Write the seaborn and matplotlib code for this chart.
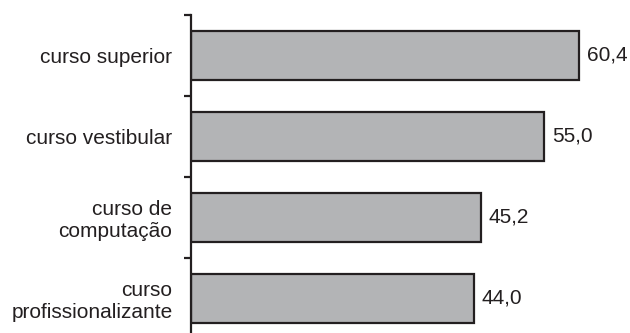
import matplotlib
matplotlib.use('Agg')
import matplotlib.pyplot as plt
import seaborn as sns

categorias = ['curso superior', 'curso vestibular', 'curso de\ncomputação', 'curso\nprofissionalizante']
valores = [60.4, 55.0, 45.2, 44.0]
rotulos = ['60,4', '55,0', '45,2', '44,0']

sns.set_theme(style='white')
plt.rcParams['font.family'] = ['Liberation Sans', 'DejaVu Sans']
preto = '#231f20'

fig = plt.figure(figsize=(6.3, 3.33), dpi=100)
ax = fig.add_axes([0.3024, 0.0, 0.6976, 0.955])

sns.barplot(x=valores, y=categorias, orient='h', color='#b3b4b6', saturation=1,
            edgecolor=preto, linewidth=1.6, width=0.6, ax=ax)

ax.set_xlim(0, 68.33)
ax.set_ylim(3.426, -0.5)
ax.set_xticks([])
ax.set_xlabel('')
ax.set_ylabel('')

for s in ['top', 'right', 'bottom']:
    ax.spines[s].set_visible(False)
ax.spines['left'].set_color(preto)
ax.spines['left'].set_linewidth(1.6)

ax.set_yticks(range(len(categorias)))
ax.set_yticklabels(categorias)
ax.set_yticks([-0.5, 0.5, 1.5, 2.5], minor=True)
ax.tick_params(axis='y', which='major', length=0, pad=13, labelsize=15, labelcolor=preto)
ax.tick_params(axis='y', which='minor', left=True, length=5, width=1.6, color=preto)

ax.bar_label(ax.containers[0], labels=rotulos, padding=5.5, fontsize=15, color=preto)

fig.savefig('out.png', dpi=100)
